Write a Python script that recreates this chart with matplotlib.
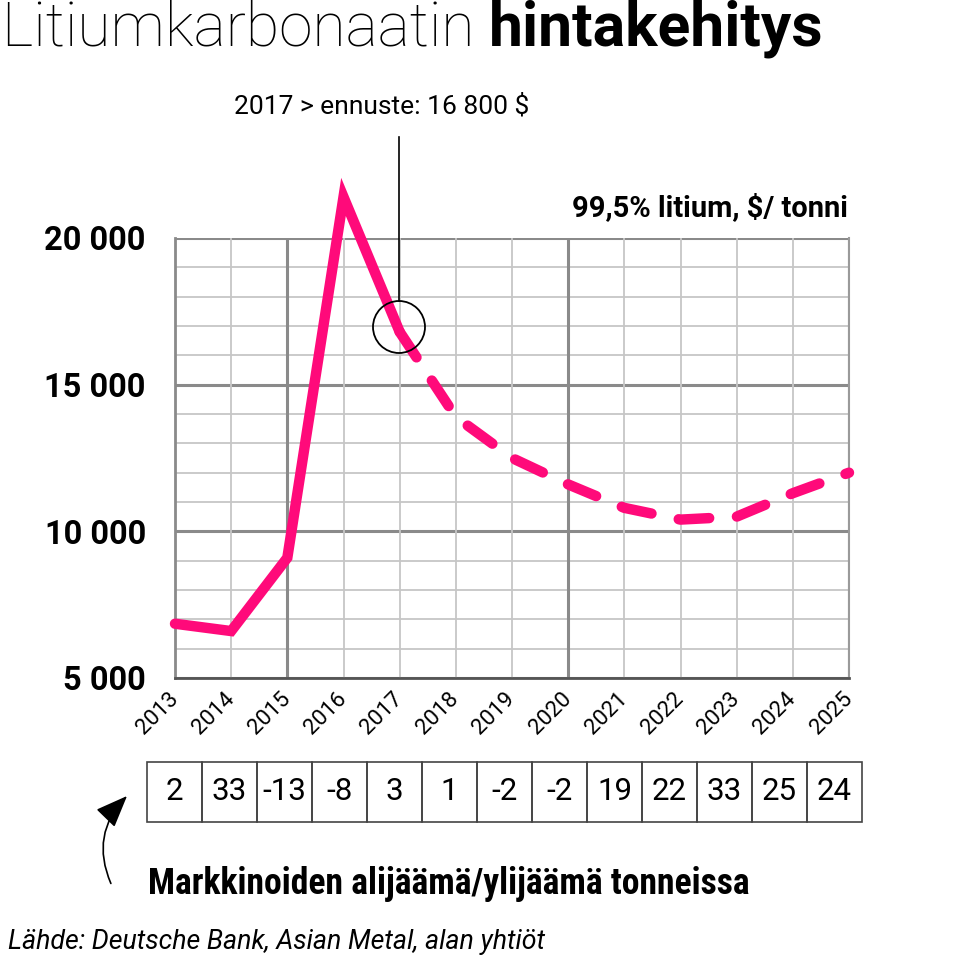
import matplotlib
matplotlib.use("Agg")
import matplotlib.pyplot as plt
from matplotlib import font_manager as fm
from matplotlib.patches import Circle, Rectangle, FancyArrowPatch
from matplotlib.transforms import ScaledTranslation

# ---- data ----
years = [2013, 2014, 2015, 2016, 2017, 2018, 2019, 2020, 2021, 2022, 2023, 2024, 2025]
price_actual_years = [2013, 2014, 2015, 2016, 2017]
price_actual = [6850, 6600, 9100, 21400, 16800]
price_forecast_years = [2017, 2018, 2019, 2020, 2021, 2022, 2023, 2024, 2025]
price_forecast = [16800, 13900, 12500, 11600, 10800, 10400, 10500, 11300, 12000]
balance = [2, 33, -13, -8, 3, 1, -2, -2, 19, 22, 33, 25, 24]
ytick_vals = [5000, 10000, 15000, 20000]
ytick_labels = ["5 000", "10 000", "15 000", "20 000"]

names = {f.name for f in fm.fontManager.ttflist}
FONT = "Roboto" if "Roboto" in names else "DejaVu Sans"
COND = "Roboto Condensed" if "Roboto Condensed" in names else FONT

PINK = "#ff0a7a"
plt.rcParams["lines.scale_dashes"] = False

W, H = 959, 966
fig = plt.figure(figsize=(W / 100, H / 100), dpi=100)


def px(x0, y0, x1, y1):
    return [x0 / W, 1 - y1 / H, (x1 - x0) / W, (y1 - y0) / H]


def fy(y):
    return 1 - y / H


ax = fig.add_axes(px(175, 238, 849, 678))
ax.set_xlim(2013, 2025)
ax.set_ylim(5000, 20000)

# grid
for y in range(5000, 20001, 1000):
    major = (y % 5000 == 0)
    ax.axhline(y, color="#8a8a8a" if major else "#c6c6c6", lw=2.2 if major else 1.3, zorder=1)
for x in years:
    major = (x % 5 == 0)
    ax.axvline(x, color="#8a8a8a" if major else "#c6c6c6", lw=2.2 if major else 1.3, zorder=1)

ax.spines["top"].set_visible(False)
ax.spines["left"].set_color("#8a8a8a")
ax.spines["left"].set_linewidth(2)
ax.spines["right"].set_color("#9a9a9a")
ax.spines["right"].set_linewidth(1.5)
ax.spines["bottom"].set_color("#555555")
ax.spines["bottom"].set_linewidth(2)

ax.set_yticks(ytick_vals)
ax.set_yticklabels(ytick_labels, fontfamily=FONT, fontweight="bold", fontsize=23.5)
ax.set_xticks(years)
ax.set_xticklabels([str(y) for y in years], fontfamily=FONT, fontsize=16,
                   rotation=45, ha="right", va="center", rotation_mode="anchor")
for lab in ax.get_xticklabels():
    lab.set_transform(lab.get_transform() + ScaledTranslation(0.06, -0.02, fig.dpi_scale_trans))
ax.tick_params(axis="y", length=0, pad=21)
ax.tick_params(axis="x", length=0, pad=13)

# lines
ax.plot(price_actual_years, price_actual, color=PINK, lw=7.5, solid_capstyle="round",
        solid_joinstyle="miter", clip_on=False, zorder=5)
ax.plot(price_forecast_years, price_forecast, color=PINK, lw=7.5, dash_capstyle="round",
        dash_joinstyle="round", dashes=(22, 20), clip_on=False, zorder=5)

# annotation circle + line
circ = Circle((399 / 100, (H - 327) / 100), 0.26, transform=fig.dpi_scale_trans,
              fill=False, ec="black", lw=1.3, zorder=6)
fig.patches.append(circ)
fig.add_artist(plt.Line2D([399 / W, 399 / W], [fy(137), fy(301)], color="black", lw=1.2))

fig.text(382 / W, fy(106), "2017 > ennuste: 16 800 $", fontfamily=FONT, fontsize=19,
         ha="center", va="center")
fig.text(848 / W, fy(208), "99,5% litium, $/ tonni", fontfamily=FONT, fontweight="bold",
         fontsize=21, ha="right", va="center")

# title
t1 = fig.text(2 / W, fy(29), "Litiumkarbonaatin ", fontfamily=FONT, fontweight="light",
              fontsize=43.7, ha="left", va="center")
fig.canvas.draw()
bb = t1.get_window_extent()
fig.text(bb.x1 / W, fy(29), "hintakehitys", fontfamily=FONT, fontweight="bold",
         fontsize=43.7, ha="left", va="center")

# balance table
tax = fig.add_axes(px(147, 762, 862, 822))
tax.set_xlim(-0.5, len(balance) - 0.5)
tax.set_ylim(0, 1)
tax.axis("off")
for i, v in enumerate(balance):
    tax.add_patch(Rectangle((i - 0.5, 0), 1, 1, fill=False, ec="#444444", lw=1.2, clip_on=False))
    tax.text(i, 0.5, str(v), fontfamily=FONT, fontsize=22.5, ha="center", va="center")

fig.text(148 / W, fy(884), "Markkinoiden alijäämä/ylijäämä tonneissa", fontfamily=COND,
         fontweight="bold", fontsize=25.7, ha="left", va="center")

fig.add_artist(FancyArrowPatch(
    (112 / W, fy(886)), (129 / W, fy(794)), transform=fig.transFigure,
    connectionstyle="arc3,rad=-0.35", arrowstyle="-|>,head_length=20,head_width=8",
    color="black", lw=1.2, mutation_scale=1))

fig.text(8 / W, fy(942), "Lähde: Deutsche Bank, Asian Metal, alan yhtiöt", fontfamily=FONT,
         fontstyle="italic", fontsize=19.3, ha="left", va="center")

fig.savefig("out.png", dpi=100)
